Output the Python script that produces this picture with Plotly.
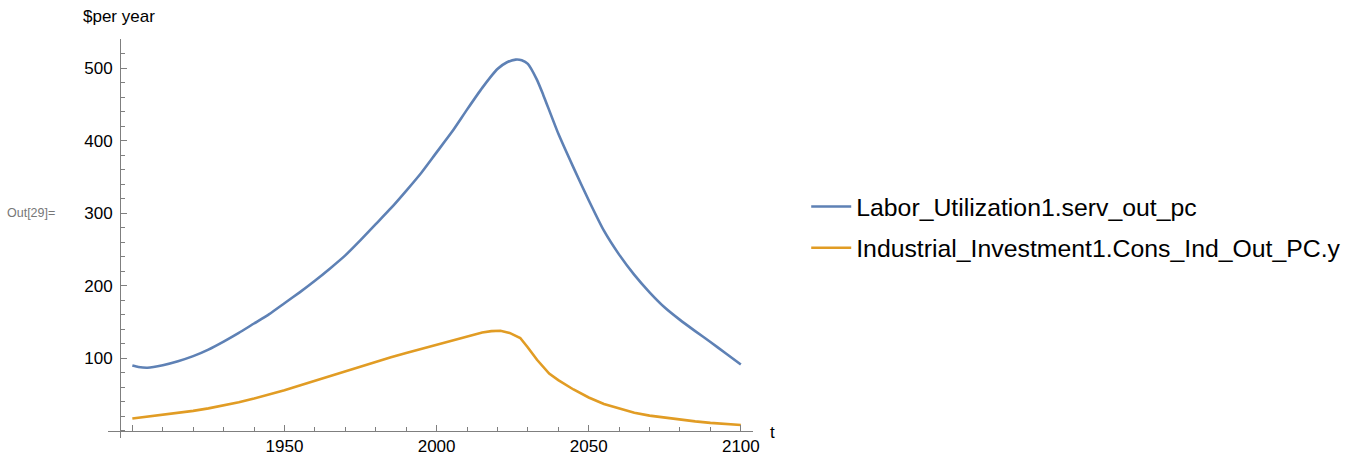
import plotly.graph_objects as go

# ---- data ----
years_serv = [1900, 1902, 1905, 1910, 1915, 1920, 1925, 1930, 1935, 1940, 1945, 1950, 1955,
              1960, 1965, 1970, 1975, 1980, 1985, 1990, 1995, 2000, 2005, 2010, 2015, 2020,
              2023, 2026, 2028, 2030, 2033, 2035, 2040, 2045, 2050, 2055, 2060, 2065, 2070,
              2075, 2080, 2085, 2090, 2095, 2100]
serv_out_pc = [90, 88, 87, 90.5, 96, 103, 112, 123, 135, 148, 161, 176, 191,
               207, 224, 242, 263, 285, 307, 331, 356, 384, 412, 443, 473, 499,
               508, 512, 511, 506, 484, 464, 410, 363, 318, 276, 243, 215, 191,
               170, 153, 137.5, 122.5, 107, 91.5]

years_cons = [1900, 1905, 1910, 1915, 1920, 1925, 1930, 1935, 1940, 1945, 1950, 1955, 1960,
              1965, 1970, 1975, 1980, 1985, 1990, 1995, 2000, 2005, 2010, 2015, 2018, 2021,
              2024, 2027.5, 2030, 2033, 2037, 2040, 2045, 2050, 2055, 2060, 2065, 2070,
              2075, 2080, 2085, 2090, 2095, 2100]
cons_ind_out_pc = [17, 19.5, 22, 24.5, 27.5, 31, 35, 39.5, 44.5, 50, 56, 62.5, 69,
                   76, 83, 89.5, 95.5, 101.5, 107.5, 113, 118.5, 124, 129.5, 135.5, 137.5, 138,
                   135, 128, 115, 98, 79, 70, 57, 46, 37, 30.5, 25, 21,
                   18, 15.5, 13, 11, 9.5, 8]

x_tick_vals = [1900, 1950, 2000, 2050, 2100]
x_tick_text = ["", "1950", "2000", "2050", "2100"]
y_tick_vals = [100, 200, 300, 400, 500]
y_tick_text = ["100", "200", "300", "400", "500"]

series_names = ["Labor_Utilization1.serv_out_pc", "Industrial_Investment1.Cons_Ind_Out_PC.y"]
colors = ["#5E81B5", "#E19C24"]

FONT = "Liberation Sans, Arial, sans-serif"
AXIS = "#7f7f7f"

fig = go.Figure()
fig.add_trace(go.Scatter(x=years_serv, y=serv_out_pc, mode="lines", name=series_names[0],
                         legendgroup="a",
                         line=dict(color=colors[0], width=2.6, shape="spline", smoothing=0.5)))
fig.add_trace(go.Scatter(x=years_cons, y=cons_ind_out_pc, mode="lines", name=series_names[1],
                         legendgroup="b",
                         line=dict(color=colors[1], width=2.6)))

fig.update_layout(
    width=1350, height=455,
    margin=dict(l=108, r=597, t=39, b=17, autoexpand=False),
    paper_bgcolor="white", plot_bgcolor="white",
    font=dict(family=FONT, size=17, color="black"),
    showlegend=True,
    legend=dict(x=1.0825, xanchor="left", y=0.528, yanchor="middle",
                font=dict(size=24.8, family=FONT, color="black"),
                bgcolor="rgba(0,0,0,0)", borderwidth=0, tracegroupgap=6,
                itemwidth=40),
    xaxis=dict(range=[1892, 2104], showgrid=False, zeroline=False,
               showline=True, linecolor=AXIS, linewidth=1,
               anchor="free", position=0.018,
               tickmode="array", tickvals=x_tick_vals, ticktext=x_tick_text,
               ticks="inside", ticklen=6, tickcolor=AXIS, tickwidth=1,
               tickfont=dict(size=17, family=FONT, color="black"),
               minor=dict(ticks="inside", ticklen=4, tickcolor=AXIS, dtick=10,
                          tick0=1900, showgrid=False)),
    yaxis=dict(range=[-9.9, 540.4], showgrid=False, zeroline=False,
               showline=True, linecolor=AXIS, linewidth=1,
               anchor="free", position=0.0186,
               tickmode="array", tickvals=y_tick_vals, ticktext=y_tick_text,
               ticks="inside", ticklen=6, tickcolor=AXIS, tickwidth=1,
               ticklabelstandoff=4,
               tickfont=dict(size=17, family=FONT, color="black"),
               minor=dict(ticks="inside", ticklen=4, tickcolor=AXIS, dtick=20,
                          tick0=0, showgrid=False)),
    annotations=[
        dict(text="$per year", xref="paper", yref="paper", x=(81 - 108) / 645, y=(438 - 17) / 399,
             xanchor="left", yanchor="middle", showarrow=False,
             font=dict(size=17, family=FONT, color="black")),
        dict(text="t", xref="paper", yref="paper", x=(768 - 108) / 645, y=(438 - 432) / 399,
             xanchor="left", yanchor="middle", showarrow=False,
             font=dict(size=17, family=FONT, color="black")),
        dict(text="Out[29]=", xref="paper", yref="paper", x=(5 - 108) / 645, y=(438 - 213) / 399,
             xanchor="left", yanchor="middle", showarrow=False,
             font=dict(size=12.5, family=FONT, color="#777777")),
    ],
)

fig.write_html("out.html", config={"displayModeBar": False},
               post_script="document.body.style.margin='0';")
